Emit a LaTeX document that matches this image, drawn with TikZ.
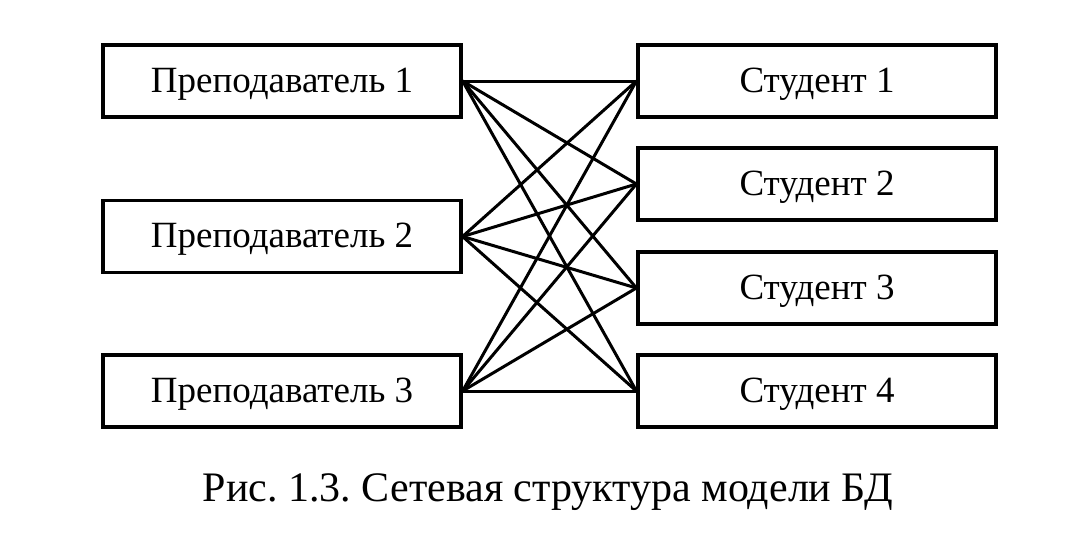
\documentclass[tikz,border=0pt]{standalone}
\usepackage{fontspec}
\setmainfont{Liberation Serif}
\frenchspacing
\begin{document}
\begin{tikzpicture}[x=1pt,y=-1pt,
  box/.style={draw,line width=3.2pt,minimum width=358pt,minimum height=72pt,inner sep=0pt,text height=30pt,text depth=8pt,font=\fontsize{37}{42}\selectfont},
  link/.style={line width=3pt}]
\useasboundingbox (0,0) rectangle (1083,539);
\node[box] (p1) at (282,81) {Преподаватель 1};
\node[box] (p2) at (282,236.5) {Преподаватель 2};
\node[box] (p3) at (282,391) {Преподаватель 3};
\node[box] (s1) at (817,81) {Студент 1};
\node[box] (s2) at (817,184) {Студент 2};
\node[box] (s3) at (817,288) {Студент 3};
\node[box] (s4) at (817,391) {Студент 4};
\foreach \p in {p1,p2,p3}{
  \foreach \s in {s1,s2,s3,s4}{
    \draw[link] (\p.east) -- (\s.west);
  }
}
\node[font=\fontsize{42}{48}\selectfont] (cap) at (548,492) {Рис. 1.3. Сетевая структура модели БД};
\end{tikzpicture}
\end{document}
